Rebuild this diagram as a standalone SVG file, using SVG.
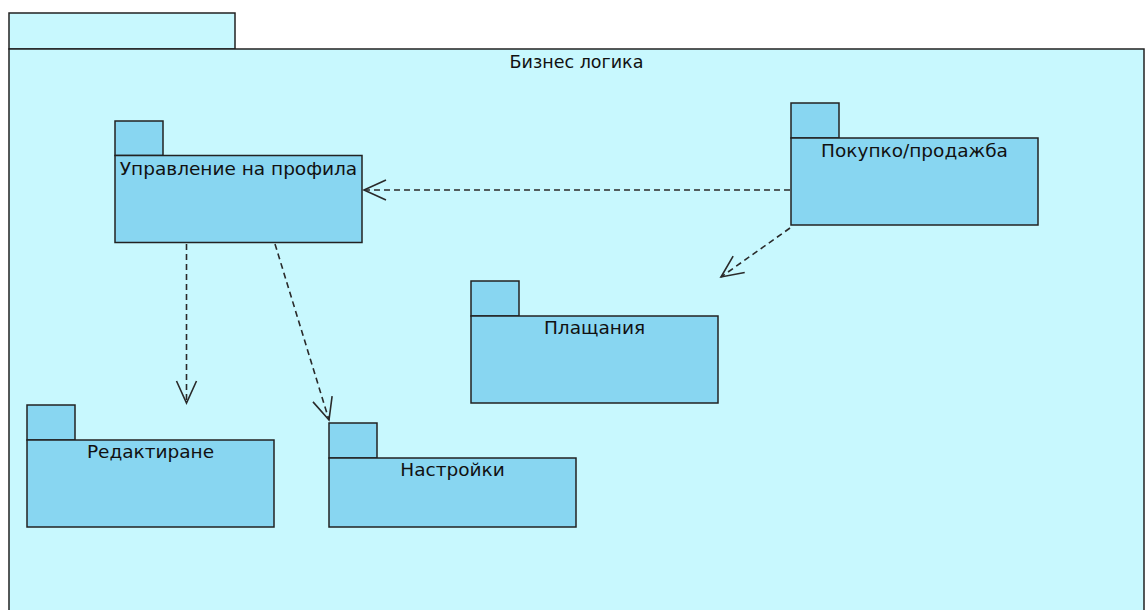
<svg xmlns="http://www.w3.org/2000/svg" width="1147" height="610" viewBox="0 0 1147 610">
  <style>
    .outer { fill: #C8F8FE; stroke: #222; stroke-width: 1.5; }
    .pkg { fill: #88D6F1; stroke: #222; stroke-width: 1.5; }
    .lbl { font-family: "DejaVu Sans", "Liberation Sans", sans-serif; font-size: 18.5px; fill: #111; text-anchor: middle; }
    .title { font-family: "DejaVu Sans", "Liberation Sans", sans-serif; font-size: 17.5px; fill: #111; text-anchor: middle; }
    .dep { fill: none; stroke: #2a2a2a; stroke-width: 1.6; stroke-dasharray: 6 4; }
  </style>
  <defs>
    <marker id="open" markerUnits="userSpaceOnUse" markerWidth="40" markerHeight="40" refX="0" refY="0" orient="auto" overflow="visible">
      <path d="M -22 -10 L 0 0 L -22 10" fill="none" stroke="#2a2a2a" stroke-width="1.6" stroke-dasharray="none"/>
    </marker>
  </defs>

  <g id="biznes-logika">
    <rect class="outer" x="9" y="13" width="226" height="36"/>
    <rect class="outer" x="9" y="49" width="1135" height="580"/>
    <text class="title" x="576.5" y="68">Бизнес логика</text>
  </g>

  <g id="upravlenie">
    <rect class="pkg" x="115" y="121" width="48" height="34.5"/>
    <rect class="pkg" x="115" y="155.5" width="247" height="87"/>
    <text class="lbl" x="238.5" y="175">Управление на профила</text>
  </g>

  <g id="pokupko">
    <rect class="pkg" x="791" y="103" width="48" height="35"/>
    <rect class="pkg" x="791" y="138" width="247" height="87"/>
    <text class="lbl" x="914.5" y="157">Покупко/продажба</text>
  </g>

  <g id="plashtania">
    <rect class="pkg" x="471" y="281" width="48" height="35"/>
    <rect class="pkg" x="471" y="316" width="247" height="87"/>
    <text class="lbl" x="594.5" y="334">Плащания</text>
  </g>

  <g id="redaktirane">
    <rect class="pkg" x="27" y="405" width="48" height="35"/>
    <rect class="pkg" x="27" y="440" width="247" height="87"/>
    <text class="lbl" x="150.5" y="458">Редактиране</text>
  </g>

  <g id="nastroiki">
    <rect class="pkg" x="329" y="423" width="48" height="35"/>
    <rect class="pkg" x="329" y="458" width="247" height="69"/>
    <text class="lbl" x="452.5" y="476">Настройки</text>
  </g>

  <g id="connectors">
    <line class="dep" x1="790" y1="190" x2="364" y2="190" marker-end="url(#open)"/>
    <line class="dep" x1="790" y1="228" x2="721" y2="277" marker-end="url(#open)"/>
    <line class="dep" x1="186.5" y1="244" x2="186.5" y2="403" marker-end="url(#open)"/>
    <line class="dep" x1="275" y1="244" x2="329" y2="420" marker-end="url(#open)"/>
  </g>
</svg>
